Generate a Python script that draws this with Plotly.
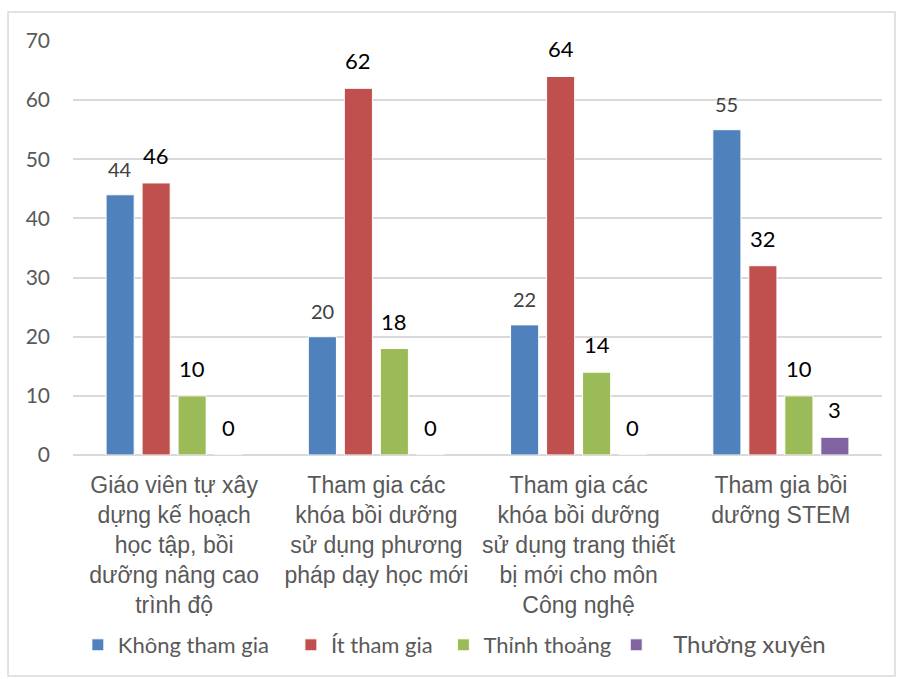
import plotly.graph_objects as go

# Survey results: number of teachers per participation level for each activity
categories = [
    "Giáo viên tự xây<br>dựng kế hoạch<br>học tập, bồi<br>dưỡng nâng cao<br>trình độ",
    "Tham gia các<br>khóa bồi dưỡng<br>sử dụng phương<br>pháp dạy học mới",
    "Tham gia các<br>khóa bồi dưỡng<br>sử dụng trang thiết<br>bị mới cho môn<br>Công nghệ",
    "Tham gia bồi<br>dưỡng STEM",
]
series_names = ["Không tham gia", "Ít tham gia", "Thỉnh thoảng", "Thường xuyên"]
khong_tham_gia = [44, 20, 22, 55]
it_tham_gia = [46, 62, 64, 32]
thinh_thoang = [10, 18, 14, 10]
thuong_xuyen = [0, 0, 0, 3]
y_ticks = [0, 10, 20, 30, 40, 50, 60, 70]

series_values = [khong_tham_gia, it_tham_gia, thinh_thoang, thuong_xuyen]
colors = ["#4F81BD", "#C0504D", "#9BBB59", "#8064A2"]
NB = "&nbsp;"
legend_labels = [
    series_names[0] + NB * 3,
    series_names[1] + NB,
    series_names[2],
    NB * 3 + '<span style="font-size:24px">' + series_names[3] + "</span>",
]
label_styles = [
    dict(size=20, color="#404040"),
    dict(size=22, color="#000000"),
    dict(size=22, color="#000000"),
    dict(size=22, color="#000000"),
]

x_pos = list(range(len(categories)))
bar_w = 0.139
pitch = 0.178
offsets = [(j - 1.5) * pitch for j in range(4)]

fig = go.Figure()
annotations = []
for j, vals in enumerate(series_values):
    fig.add_trace(go.Bar(
        x=x_pos,
        y=vals,
        name=legend_labels[j],
        width=bar_w,
        offset=offsets[j] - bar_w / 2,
        marker=dict(color=colors[j], line=dict(color="white", width=1)),
        hoverinfo="skip",
    ))
    for i, v in enumerate(vals):
        annotations.append(dict(
            x=x_pos[i] + offsets[j], y=v, xref="x", yref="y",
            text=str(v), showarrow=False, yanchor="bottom", yshift=12,
            font=dict(family="Lato, Carlito, Calibri, sans-serif", **label_styles[j]),
        ))

fig.update_layout(
    width=899, height=679,
    margin=dict(l=73, r=17, t=41, b=224),
    paper_bgcolor="white",
    plot_bgcolor="white",
    barmode="overlay",
    showlegend=True,
    legend=dict(
        orientation="h",
        x=0.006, y=-0.459, xanchor="left", yanchor="middle",
        font=dict(family="Lato, Carlito, Calibri, sans-serif", size=22, color="#595959"),
        itemwidth=30,
        traceorder="normal",
    ),
    annotations=annotations,
    shapes=[dict(
        type="rect", xref="paper", yref="paper",
        x0=-0.0803, x1=1.016, y0=-0.534, y1=1.070,
        line=dict(color="#D9D9D9", width=1.5), fillcolor="rgba(0,0,0,0)",
        layer="below",
    )],
)

fig.update_xaxes(
    range=[-0.5, 3.5],
    tickmode="array", tickvals=x_pos, ticktext=categories,
    tickfont=dict(family="Liberation Sans, Arial, sans-serif", size=23, color="#595959"),
    showgrid=False, zeroline=False, showline=False, ticks="",
    ticklabelstandoff=14,
)
fig.update_yaxes(
    range=[0, 70],
    tickmode="array", tickvals=y_ticks,
    tickfont=dict(family="Lato, Carlito, Calibri, sans-serif", size=21, color="#595959"),
    showgrid=True, gridcolor="#D9D9D9", gridwidth=1.5,
    zeroline=True, zerolinecolor="#D9D9D9", zerolinewidth=1.5,
    showline=False, ticks="", ticklabelstandoff=22,
)

fig.write_html("out.html")
